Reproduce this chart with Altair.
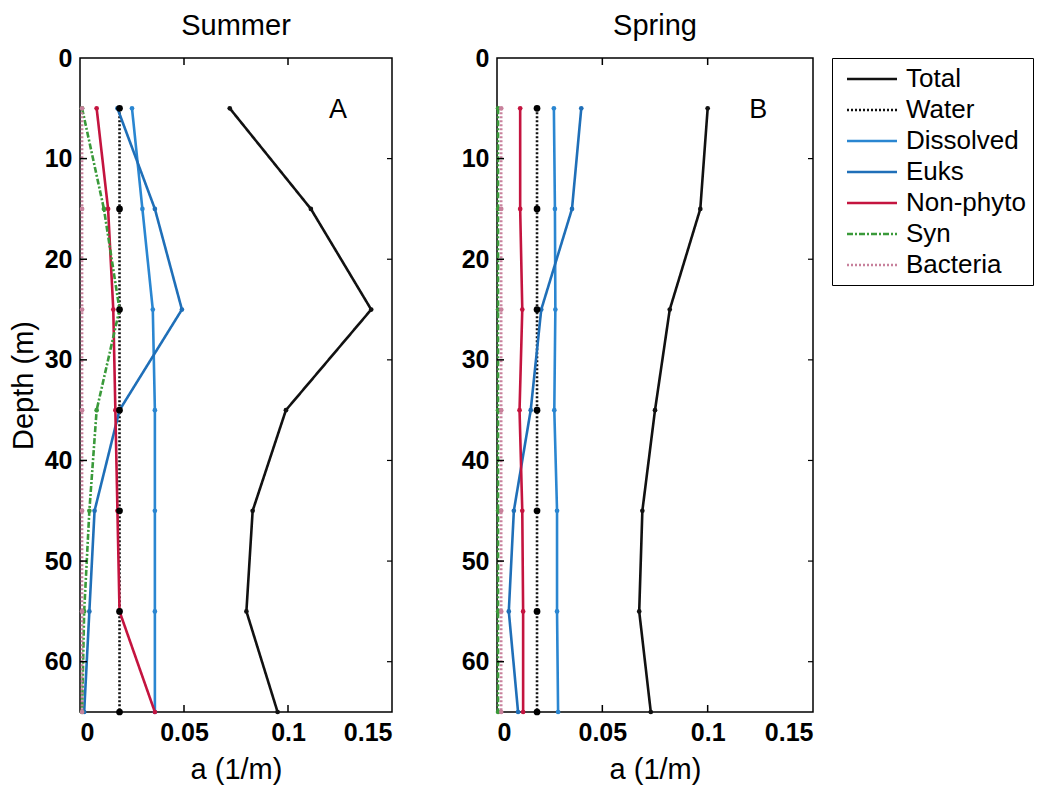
import altair as alt
import pandas as pd

depth = [5, 15, 25, 35, 45, 55, 65]
series_names = ["Total", "Water", "Dissolved", "Euks", "Non-phyto", "Syn", "Bacteria"]
series_colors = ["#111111", "#111111", "#2a86d1", "#1f6fb8", "#c4143f", "#3a9a3a", "#c8819c"]
series_dashes = [[1, 0], [2, 2], [1, 0], [1, 0], [1, 0], [6, 2, 2, 2], [2, 2]]

# Summer (panel A)
summer_total = [0.072, 0.111, 0.140, 0.099, 0.083, 0.080, 0.095]
summer_water = [0.019, 0.019, 0.019, 0.019, 0.019, 0.019, 0.019]
summer_dissolved = [0.025, 0.030, 0.035, 0.036, 0.036, 0.036, 0.036]
summer_euks = [0.018, 0.036, 0.049, 0.019, 0.007, 0.0045, 0.002]
summer_nonphyto = [0.008, 0.0135, 0.016, 0.017, 0.018, 0.019, 0.036]
summer_syn = [0.001, 0.0115, 0.019, 0.008, 0.0045, 0.002, 0.001]
summer_bacteria = [0.001, 0.001, 0.001, 0.001, 0.001, 0.001, 0.001]

# Spring (panel B)
spring_total = [0.100, 0.0965, 0.082, 0.075, 0.069, 0.0675, 0.073]
spring_water = [0.019, 0.019, 0.019, 0.019, 0.019, 0.019, 0.019]
spring_dissolved = [0.027, 0.0275, 0.0277, 0.0272, 0.0285, 0.0285, 0.029]
spring_euks = [0.040, 0.0356, 0.021, 0.016, 0.008, 0.0056, 0.010]
spring_nonphyto = [0.011, 0.011, 0.012, 0.0107, 0.012, 0.0124, 0.0124]
spring_syn = [0.0005, 0.0005, 0.0005, 0.0005, 0.0005, 0.0005, 0.0005]
spring_bacteria = [0.002, 0.002, 0.002, 0.002, 0.002, 0.002, 0.002]

x_ticks = [0, 0.05, 0.1, 0.15]
y_ticks = [0, 10, 20, 30, 40, 50, 60]

seasons = {
    "Summer": [summer_total, summer_water, summer_dissolved, summer_euks,
               summer_nonphyto, summer_syn, summer_bacteria],
    "Spring": [spring_total, spring_water, spring_dissolved, spring_euks,
               spring_nonphyto, spring_syn, spring_bacteria],
}

rows = []
for season, table in seasons.items():
    for name, vals in zip(series_names, table):
        for d, v in zip(depth, vals):
            rows.append({"season": season, "series": name, "depth": d, "a": v})
df = pd.DataFrame(rows)

H = 654
FONT = "Liberation Sans"

xscale = alt.Scale(domain=[0, 0.15], nice=False, zero=False)
yscale = alt.Scale(domain=[0, 65], nice=False, zero=False, reverse=True)
cscale = alt.Scale(domain=series_names, range=series_colors)
dscale = alt.Scale(domain=series_names, range=series_dashes)

legend = alt.Legend(
    title=None, orient="right", offset=17, padding=7, strokeColor="black",
    symbolType="M-2,0H2", symbolSize=625, symbolStrokeWidth=2.5,
    symbolOffset=19, labelOffset=20, labelFontSize=26, labelFont=FONT,
    labelColor="black", rowPadding=4,
)


def panel(season, letter, show_ytitle, W):
    d = df[df.season == season]
    xax = alt.Axis(values=x_ticks, format=".2~f", title="a (1/m)")
    yax = alt.Axis(values=y_ticks, title="Depth (m)" if show_ytitle else None)
    x = alt.X("a:Q", scale=xscale, axis=xax)
    y = alt.Y("depth:Q", scale=yscale, axis=yax)

    lines = alt.Chart(d).mark_line(strokeWidth=2.6).encode(
        x=x, y=y,
        color=alt.Color("series:N", scale=cscale, legend=legend, sort=series_names),
        strokeDash=alt.StrokeDash("series:N", scale=dscale, legend=legend, sort=series_names),
        detail="series:N",
        order=alt.Order("depth:Q"),
    )
    pts = alt.Chart(d[d.series != "Water"]).mark_circle(size=22, opacity=1).encode(
        x=x, y=y,
        fill=alt.Fill("series:N", scale=alt.Scale(domain=series_names, range=series_colors), legend=None),
    )
    wpts = alt.Chart(d[d.series == "Water"]).mark_circle(size=45, opacity=1, color="black").encode(
        x=x, y=y,
    )
    tx = pd.DataFrame({"a": x_ticks[1:3]})
    ty = pd.DataFrame({"depth": y_ticks[1:]})
    tb = alt.Chart(tx).mark_rule(color="black", strokeWidth=1.5).encode(
        x=x, y=alt.value(H), y2=alt.value(H - 7))
    tt = alt.Chart(tx).mark_rule(color="black", strokeWidth=1.5).encode(
        x=x, y=alt.value(0), y2=alt.value(7))
    tl = alt.Chart(ty).mark_rule(color="black", strokeWidth=1.5).encode(
        y=y, x=alt.value(0), x2=alt.value(7))
    tr = alt.Chart(ty).mark_rule(color="black", strokeWidth=1.2).encode(
        y=y, x=alt.value(W - 5), x2=alt.value(W))
    lab = alt.Chart(pd.DataFrame({"a": [0.124], "depth": [5.2], "t": [letter]})).mark_text(
        fontSize=27, font=FONT, color="black").encode(x=x, y=y, text="t:N")
    return alt.layer(lines, pts, wpts, tb, tt, tl, tr, lab).properties(
        width=W, height=H,
        title=alt.TitleParams(season, fontSize=29, fontWeight="normal", font=FONT,
                              color="black", offset=5),
    )


chart = alt.hconcat(
    panel("Summer", "A", True, 312), panel("Spring", "B", False, 316), spacing=66
).resolve_scale(color="shared", strokeDash="shared", fill="shared").properties(
    padding={"left": 8, "top": 11, "right": 0, "bottom": 0}
).configure_view(stroke="black", strokeWidth=1.5).configure_axis(
    domain=False, ticks=False, grid=False,
    labelFont=FONT, labelFontWeight="bold", labelFontSize=25, labelColor="black",
    labelPadding=8, titleFont=FONT, titleFontWeight="normal", titleFontSize=29,
    titleColor="black", titlePadding=6,
).configure_axisX(titlePadding=10)

chart.save("out.html", embed_options={"renderer": "svg", "actions": False})
